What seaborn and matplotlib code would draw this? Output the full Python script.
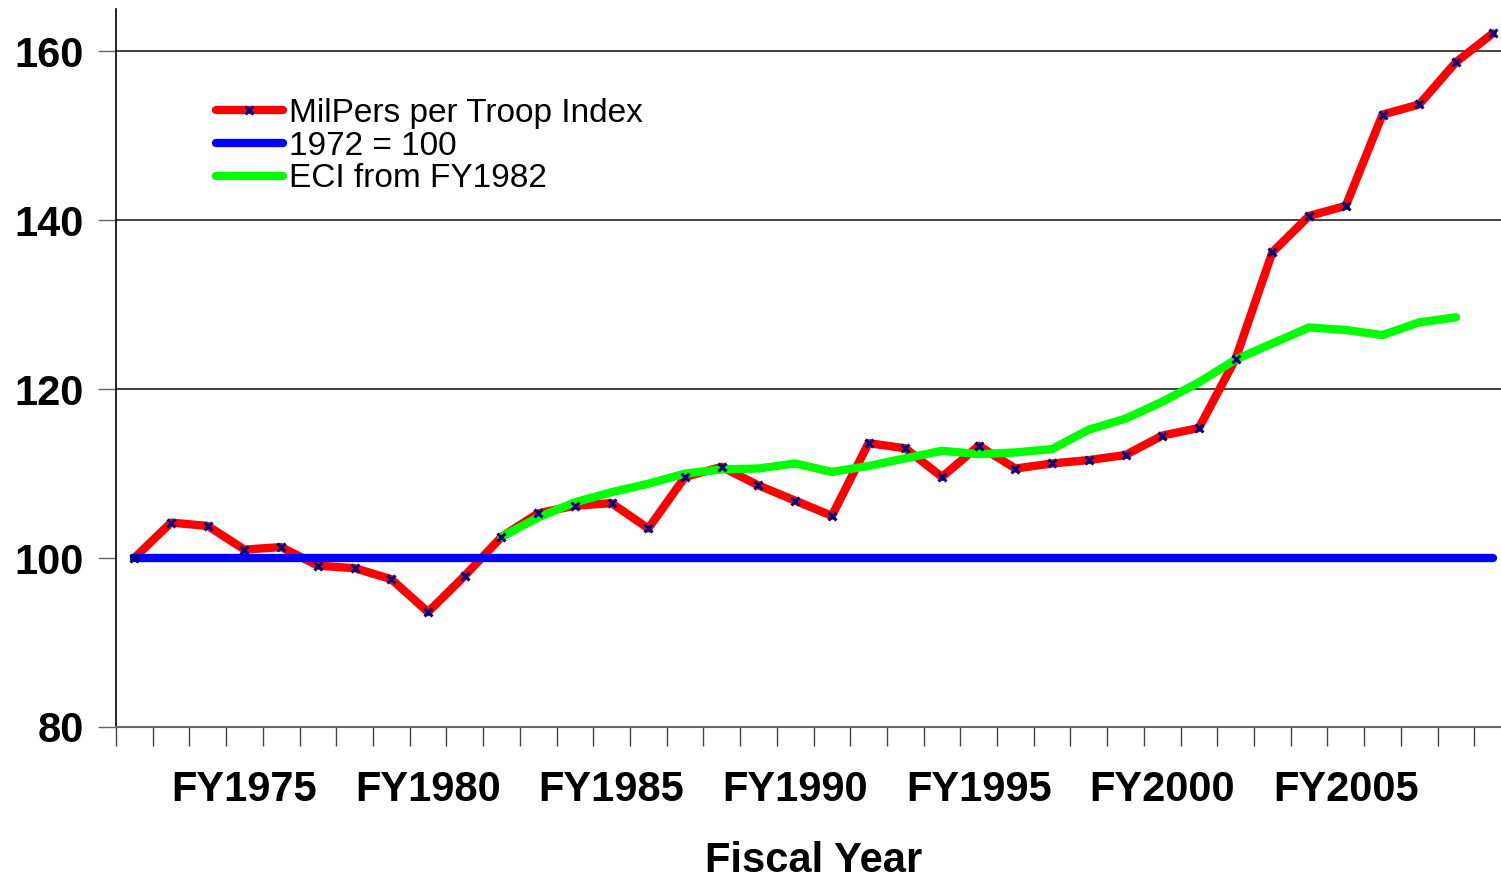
import numpy as np
import pandas as pd
import seaborn as sns
import matplotlib.pyplot as plt
from matplotlib.lines import Line2D

# fiscal years shown on the category axis
years = list(range(1972, 2010))

# MilPers per troop index (1972 = 100)
milpers = [100.0, 104.2, 103.8, 101.0, 101.3, 99.1, 98.8, 97.5, 93.6, 97.9,
           102.5, 105.3, 106.2, 106.5, 103.5, 109.6, 110.8, 108.6, 106.8, 105.0,
           113.6, 113.0, 109.6, 113.3, 110.6, 111.2, 111.6, 112.2, 114.5, 115.4,
           123.6, 136.2, 140.5, 141.7, 152.5, 153.7, 158.7, 162.1]

# baseline
base = [100.0] * len(years)

# ECI, starting at FY1982 (through FY2008)
eci_years = list(range(1982, 2009))
eci = [102.5, 104.8, 106.6, 107.8, 108.8, 110.0, 110.5, 110.6, 111.2, 110.2,
       110.9, 111.8, 112.7, 112.3, 112.5, 112.9, 115.2, 116.5, 118.5, 120.8,
       123.5, 125.4, 127.3, 127.0, 126.4, 127.9, 128.5]

tick_years = [1975, 1980, 1985, 1990, 1995, 2000, 2005]

df = pd.DataFrame({'pos': np.arange(len(years)), 'milpers': milpers, 'base': base})
df_eci = pd.DataFrame({'pos': [years.index(y) for y in eci_years], 'eci': eci})

sns.set_style("white")
plt.rcParams['font.family'] = ['Liberation Sans', 'DejaVu Sans']
plt.rcParams['text.color'] = 'black'
plt.rcParams['axes.labelcolor'] = 'black'
plt.rcParams['xtick.labelcolor'] = 'black'
plt.rcParams['ytick.labelcolor'] = 'black'

fig = plt.figure(figsize=(15.01, 8.8), dpi=100)
ax = fig.add_axes([116 / 1501, 153 / 880, 1395 / 1501, 718 / 880])

for y in [120, 140, 160]:
    ax.axhline(y, color='#222222', lw=1.2, zorder=0)

sns.lineplot(data=df, x='pos', y='milpers', color='#ff0000', lw=6, ax=ax, zorder=2)
sns.lineplot(data=df, x='pos', y='base', color='#0000ff', lw=6, ax=ax, zorder=3)
sns.lineplot(data=df_eci, x='pos', y='eci', color='#00ff00', lw=6, ax=ax, zorder=4,
             solid_capstyle='round')
ax.plot(df['pos'], df['milpers'], ls='none', marker='x', ms=6, mew=2.2,
        color='#000080', zorder=5)

ax.set_xlim(-0.5, len(years) - 0.5)
ax.set_ylim(80, 165)
ax.set_yticks([80, 100, 120, 140, 160])
ax.set_yticklabels(['80', '100', '120', '140', '160'], fontsize=30, fontweight='bold')

# tick marks between categories, labels under the categories
ax.set_xticks(np.arange(-0.5, len(years), 1.0))
ax.set_xticklabels([])
ax.set_xticks([years.index(y) for y in tick_years], minor=True)
ax.set_xticklabels([f'FY{y}' for y in tick_years], minor=True,
                   fontsize=30, fontweight='bold')
ax.tick_params(axis='x', which='major', direction='out', length=14, width=1,
               color='#444444', bottom=True)
ax.tick_params(axis='x', which='minor', length=0, pad=31)
ax.tick_params(axis='y', direction='out', length=13, width=1, color='#666666',
               left=True, pad=10)

ax.set_xlabel('Fiscal Year', fontsize=30, fontweight='bold', labelpad=22)
ax.set_ylabel('')

for s in ['top', 'right']:
    ax.spines[s].set_visible(False)
ax.spines['left'].set_color('black')
ax.spines['left'].set_linewidth(1.2)
ax.spines['bottom'].set_color('#666666')
ax.spines['bottom'].set_linewidth(1.5)

handles = [
    Line2D([], [], color='#ff0000', lw=6, marker='x', ms=6, mew=2.2,
           markeredgecolor='#000080', solid_capstyle='round'),
    Line2D([], [], color='#0000ff', lw=6, solid_capstyle='round'),
    Line2D([], [], color='#00ff00', lw=6, solid_capstyle='round'),
]
labels = ['MilPers per Troop Index', '1972 = 100', 'ECI from FY1982']
fig.legend(handles, labels, loc='upper left', bbox_to_anchor=(216 / 1501, 1 - 98 / 880),
           frameon=False, fontsize=24, handlelength=2.0, handletextpad=0.2,
           labelspacing=0.05, borderpad=0, borderaxespad=0, numpoints=1)

fig.savefig('out.png', dpi=100)
